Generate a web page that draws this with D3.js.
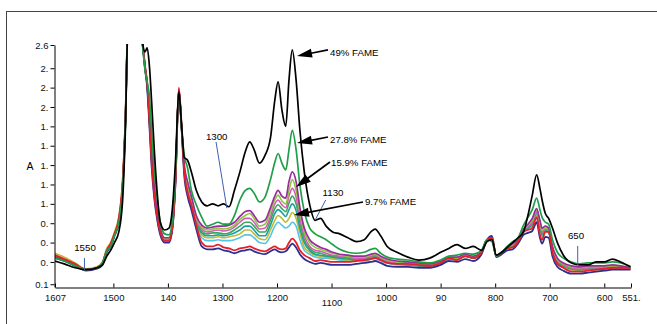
<!DOCTYPE html>
<html><head><meta charset="utf-8">
<script src="https://cdn.jsdelivr.net/npm/d3@7"></script>
<style>body{margin:0;background:#fff}svg{display:block;font-family:"Liberation Sans",Arial,sans-serif}</style>
</head><body><svg id="c" width="657" height="324"></svg>
<script>
// wavenumber grid (cm-1)
const wavenumber = [1607,1590,1570,1550,1530,1520,1512,1505,1498,1490,1483,1478,1473,1460,1450,1446,1442,1438,1434,1430,1425,1420,1414,1406,1398,1392,1386,1380,1375,1370,1364,1357,1348,1338,1328,1318,1308,1298,1288,1278,1268,1258,1250,1242,1232,1222,1212,1204,1198,1191,1184,1178,1172,1165,1158,1150,1140,1130,1120,1110,1098,1085,1070,1055,1040,1028,1020,1010,998,980,960,940,920,900,885,870,855,840,825,815,806,798,788,778,768,758,748,740,732,724,718,714,708,702,695,686,675,660,645,630,615,600,585,570,552];

// absorbance series
const fame49 = [0.41,0.38,0.34,0.32,0.34,0.37,0.46,0.52,0.60,0.71, 1.04,1.76,2.90,3.10,3.00,2.65,2.57,2.61,2.43,2.07, 1.56,1.14,0.81,0.73,0.75,0.94,1.45,2.16,1.82,1.48, 1.45,1.33,1.14,1.02,0.98,1.00,0.98,1.00,0.97,1.14, 1.33,1.54,1.64,1.56,1.42,1.50,1.68,2.07,2.26,1.97, 1.80,2.28,2.59,2.28,1.76,1.33,0.99,0.83,0.85,0.77, 0.71,0.69,0.65,0.61,0.63,0.71,0.74,0.67,0.56,0.50, 0.45,0.42,0.44,0.50,0.54,0.58,0.54,0.56,0.52,0.61, 0.63,0.47,0.50,0.55,0.60,0.65,0.71,0.88,1.09,1.30, 1.16,1.04,0.90,0.85,0.75,0.60,0.47,0.39,0.37,0.37, 0.40,0.40,0.43,0.40,0.35];
const fame278 = [0.44,0.41,0.36,0.32,0.34,0.39,0.51,0.56,0.67,0.81, 1.16,1.82,2.90,3.10,2.80,2.61,2.38,2.26,2.12,1.76, 1.35,1.07,0.81,0.69,0.68,0.83,1.35,2.16,1.78,1.50, 1.37,1.14,0.99,0.86,0.77,0.79,0.81,0.79,0.79,0.88, 1.04,1.14,1.16,1.11,1.02,1.07,1.25,1.43,1.52,1.42, 1.35,1.56,1.76,1.56,1.19,0.92,0.75,0.69,0.66,0.63, 0.58,0.53,0.50,0.49,0.50,0.53,0.54,0.49,0.45,0.43, 0.42,0.40,0.39,0.42,0.46,0.47,0.49,0.48,0.52,0.63, 0.61,0.46,0.50,0.56,0.61,0.65,0.78,0.86,0.94,1.06, 0.94,0.86,0.81,0.79,0.63,0.50,0.44,0.40,0.38,0.39, 0.39,0.39,0.40,0.39,0.35];
const fame159 = [0.46,0.42,0.37,0.32,0.34,0.39,0.52,0.58,0.68,0.83, 1.19,1.85,2.90,3.10,2.80,2.63,2.41,2.24,1.92,1.56, 1.19,0.94,0.75,0.65,0.65,0.78,1.29,2.18,1.80,1.40, 1.23,1.08,0.88,0.78,0.75,0.76,0.77,0.77,0.78,0.81, 0.87,0.92,0.93,0.88,0.81,0.83,0.96,1.08,1.14,1.08, 1.06,1.23,1.33,1.23,0.96,0.75,0.63,0.58,0.55,0.53, 0.50,0.48,0.47,0.46,0.46,0.48,0.49,0.46,0.43,0.41, 0.40,0.39,0.38,0.41,0.45,0.45,0.48,0.46,0.51,0.63, 0.63,0.46,0.50,0.55,0.59,0.63,0.74,0.79,0.85,0.95, 0.83,0.75,0.77,0.75,0.56,0.44,0.39,0.36,0.35,0.36, 0.36,0.36,0.37,0.36,0.34];
const sLime = [0.47,0.43,0.37,0.32,0.34,0.39,0.53,0.59,0.69,0.84, 1.20,1.85,2.90,3.10,2.80,2.63,2.42,2.24,1.91,1.54, 1.17,0.93,0.74,0.64,0.64,0.77,1.28,2.18,1.80,1.38, 1.19,1.05,0.86,0.76,0.73,0.74,0.75,0.74,0.75,0.78, 0.84,0.88,0.90,0.85,0.77,0.79,0.92,1.04,1.09,1.03, 1.00,1.14,1.25,1.14,0.91,0.71,0.60,0.55,0.53,0.51, 0.49,0.47,0.46,0.45,0.45,0.47,0.48,0.45,0.42,0.40, 0.39,0.38,0.37,0.40,0.44,0.44,0.47,0.45,0.50,0.63, 0.64,0.46,0.50,0.55,0.58,0.63,0.73,0.78,0.83,0.94, 0.81,0.73,0.75,0.74,0.55,0.43,0.38,0.35,0.34,0.35, 0.35,0.35,0.36,0.35,0.34];
const sPink = [0.46,0.42,0.37,0.32,0.34,0.39,0.52,0.58,0.68,0.83, 1.20,1.85,2.90,3.10,2.80,2.63,2.42,2.24,1.90,1.51, 1.16,0.92,0.73,0.63,0.63,0.76,1.27,2.18,1.80,1.37, 1.17,1.03,0.84,0.74,0.71,0.72,0.73,0.72,0.73,0.76, 0.81,0.85,0.85,0.81,0.74,0.75,0.87,1.00,1.04,0.99, 0.96,1.08,1.16,1.07,0.85,0.67,0.56,0.52,0.51,0.49, 0.47,0.46,0.45,0.44,0.44,0.46,0.47,0.44,0.41,0.39, 0.38,0.37,0.36,0.40,0.44,0.43,0.47,0.45,0.50,0.63, 0.64,0.46,0.50,0.55,0.58,0.63,0.73,0.77,0.81,0.92, 0.79,0.71,0.74,0.73,0.54,0.42,0.37,0.34,0.33,0.34, 0.34,0.34,0.35,0.34,0.33];
const sGreen = [0.45,0.42,0.36,0.32,0.34,0.38,0.52,0.58,0.68,0.82, 1.19,1.84,2.90,3.10,2.80,2.63,2.41,2.23,1.89,1.49, 1.14,0.91,0.72,0.63,0.63,0.76,1.27,2.18,1.79,1.36, 1.16,1.02,0.82,0.72,0.69,0.70,0.70,0.69,0.70,0.73, 0.77,0.81,0.81,0.77,0.71,0.71,0.83,0.95,0.99,0.95, 0.92,1.01,1.08,1.00,0.81,0.63,0.54,0.50,0.49,0.47, 0.46,0.45,0.44,0.43,0.43,0.45,0.46,0.43,0.40,0.39, 0.38,0.37,0.36,0.40,0.44,0.43,0.46,0.44,0.50,0.63, 0.64,0.46,0.50,0.54,0.56,0.62,0.72,0.76,0.80,0.91, 0.78,0.69,0.73,0.72,0.53,0.41,0.36,0.33,0.32,0.33, 0.33,0.33,0.34,0.34,0.33];
const sTeal = [0.46,0.42,0.37,0.32,0.34,0.38,0.51,0.56,0.67,0.82, 1.19,1.84,2.90,3.10,2.80,2.63,2.41,2.23,1.89,1.48, 1.13,0.90,0.71,0.62,0.62,0.75,1.26,2.18,1.79,1.35, 1.15,1.01,0.81,0.70,0.67,0.67,0.68,0.67,0.68,0.70, 0.73,0.77,0.77,0.73,0.67,0.67,0.78,0.90,0.94,0.91, 0.87,0.94,1.00,0.93,0.75,0.60,0.52,0.48,0.47,0.46, 0.45,0.44,0.43,0.42,0.42,0.44,0.45,0.42,0.40,0.38, 0.37,0.36,0.36,0.39,0.43,0.43,0.46,0.44,0.50,0.63, 0.64,0.46,0.50,0.54,0.56,0.62,0.72,0.75,0.79,0.90, 0.77,0.68,0.72,0.71,0.52,0.40,0.36,0.33,0.32,0.33, 0.33,0.33,0.34,0.34,0.33];
const fame97 = [0.49,0.45,0.39,0.33,0.35,0.40,0.54,0.60,0.71,0.87, 1.25,1.89,2.90,3.10,2.80,2.62,2.40,2.22,1.87,1.47, 1.12,0.88,0.70,0.62,0.62,0.75,1.26,2.18,1.79,1.34, 1.14,1.00,0.80,0.68,0.65,0.65,0.66,0.65,0.66,0.67, 0.69,0.73,0.73,0.69,0.64,0.63,0.73,0.83,0.88,0.85, 0.81,0.85,0.91,0.85,0.70,0.55,0.50,0.47,0.46,0.45, 0.44,0.43,0.42,0.42,0.42,0.44,0.45,0.42,0.39,0.38, 0.37,0.36,0.35,0.39,0.43,0.42,0.46,0.44,0.50,0.63, 0.64,0.46,0.50,0.54,0.56,0.62,0.72,0.75,0.78,0.88, 0.76,0.67,0.72,0.71,0.51,0.39,0.35,0.32,0.31,0.32, 0.32,0.32,0.33,0.33,0.33];
const sCyan = [0.46,0.42,0.36,0.32,0.34,0.38,0.51,0.56,0.67,0.82, 1.19,1.83,2.90,3.10,2.80,2.62,2.40,2.22,1.86,1.46, 1.11,0.87,0.69,0.61,0.61,0.74,1.25,2.18,1.79,1.34, 1.13,0.99,0.79,0.65,0.62,0.62,0.63,0.62,0.62,0.63, 0.65,0.68,0.68,0.65,0.60,0.59,0.67,0.77,0.81,0.78, 0.75,0.77,0.81,0.77,0.63,0.52,0.48,0.45,0.44,0.44, 0.43,0.42,0.41,0.41,0.41,0.43,0.44,0.41,0.39,0.37, 0.37,0.36,0.35,0.39,0.43,0.42,0.46,0.44,0.50,0.63, 0.64,0.46,0.50,0.54,0.56,0.62,0.71,0.74,0.77,0.87, 0.75,0.66,0.72,0.71,0.51,0.39,0.35,0.32,0.31,0.32, 0.32,0.32,0.33,0.33,0.33];
const sRed = [0.47,0.43,0.38,0.32,0.34,0.39,0.52,0.59,0.69,0.85, 1.23,1.87,2.90,3.10,2.80,2.64,2.43,2.25,1.87,1.45, 1.09,0.88,0.71,0.62,0.62,0.75,1.25,2.20,1.82,1.33, 1.12,0.99,0.78,0.60,0.56,0.56,0.58,0.55,0.54,0.52, 0.54,0.55,0.56,0.54,0.52,0.51,0.54,0.56,0.54,0.53, 0.54,0.60,0.64,0.60,0.52,0.47,0.44,0.41,0.42,0.41, 0.40,0.40,0.40,0.41,0.42,0.43,0.44,0.42,0.39,0.38, 0.38,0.37,0.36,0.39,0.44,0.42,0.46,0.44,0.50,0.63, 0.65,0.46,0.50,0.54,0.55,0.61,0.71,0.73,0.75,0.86, 0.68,0.63,0.71,0.71,0.50,0.38,0.34,0.30,0.30,0.31, 0.32,0.33,0.34,0.34,0.34];
const sNavy = [0.44,0.41,0.36,0.31,0.33,0.37,0.50,0.56,0.67,0.81, 1.18,1.82,2.90,3.10,2.80,2.62,2.40,2.20,1.82,1.40, 1.06,0.85,0.68,0.60,0.60,0.73,1.23,2.18,1.78,1.29, 1.08,0.94,0.74,0.56,0.53,0.53,0.54,0.52,0.51,0.49, 0.51,0.52,0.53,0.51,0.49,0.48,0.51,0.53,0.51,0.50, 0.51,0.55,0.59,0.55,0.48,0.43,0.40,0.38,0.39,0.38, 0.37,0.37,0.37,0.38,0.39,0.40,0.41,0.39,0.36,0.35, 0.35,0.34,0.34,0.37,0.41,0.40,0.43,0.41,0.48,0.63, 0.67,0.45,0.48,0.52,0.53,0.59,0.68,0.70,0.72,0.81, 0.65,0.59,0.66,0.65,0.46,0.35,0.31,0.28,0.28,0.29, 0.30,0.31,0.32,0.32,0.32];

// axis ticks
const xTickValues = [1607,1500,1400,1300,1200,1100,1000,900,800,700,600,551];
const xTickLabels = ["1607","1500","140","1300","1200","1100","1000","90","800","700","600","551."];
const yTickValues = [0.17,0.4,0.6,0.8,1.0,1.2,1.4,1.6,1.8,2.0,2.2,2.4,2.64];
const yTickLabels = ["0.1","0.","0.","0.","1.","1.","1.","1.","1.","2.","2.","2.","2.6"];

// annotations
const markerLabels = ["1550","1300","1130","650"];
const markerStart = [[1553,0.44],[1292,0.955],[1130,0.833],[648.7,0.369]];
const markerEnd = [[1553,0.317],[1311.8,1.64],[1110.7,1.04],[648.7,0.565]];
const markerText = [[1552,0.544],[1310.6,1.683],[1097.3,1.109],[651.8,0.661]];
const arrowLabels = ["49% FAME","27.8% FAME","15.9% FAME","9.7% FAME"];
const arrowTip = [[1163.3,2.527],[1163.3,1.628],[1165.2,1.174],[1168.8,0.885]];
const arrowTail = [[1106.5,2.589],[1106.5,1.690],[1102.8,1.432],[1042.3,1.019]];
const arrowText = [[1102.8,2.558],[1102.8,1.659],[1101,1.422],[1038.7,1.016]];

const seriesList = [
  {v:sCyan, c:"#55c5e6", w:1.6},
  {v:fame97, c:"#c2b934", w:1.6},
  {v:sTeal, c:"#1aa0a0", w:1.6},
  {v:sGreen, c:"#3aa85a", w:1.6},
  {v:sPink, c:"#d35db5", w:1.6},
  {v:sLime, c:"#8cc63f", w:1.6},
  {v:fame159, c:"#9a2c9e", w:1.7},
  {v:sNavy, c:"#2c2f8e", w:1.8},
  {v:sRed, c:"#e6202a", w:1.8},
  {v:fame278, c:"#1f9e48", w:1.7},
  {v:fame49, c:"#000000", w:1.7}
];

const svg = d3.select("#c");
svg.append("rect").attr("x",6.5).attr("y",11.5).attr("width",700).attr("height",400)
  .attr("fill","none").attr("stroke","#444").attr("stroke-width",1);

const x = d3.scaleLinear().domain([1607,551]).range([55,631]);
const y = d3.scaleLinear().domain([0.1415,2.64]).range([287,45]);

svg.append("clipPath").attr("id","clip").append("rect")
  .attr("x",55).attr("y",44).attr("width",578).attr("height",243);

const line = d3.line().x((d,i)=>x(wavenumber[i])).y(d=>y(d)).curve(d3.curveMonotoneX);
const gl = svg.append("g").attr("clip-path","url(#clip)");
seriesList.forEach(s=>{
  gl.append("path").attr("d",line(s.v)).attr("fill","none")
    .attr("stroke",s.c).attr("stroke-width",s.w).attr("stroke-linejoin","round");
});

// axes
const ya = svg.append("g").attr("transform","translate(54.5,0)")
  .call(d3.axisLeft(y).tickValues(yTickValues).tickFormat((d,i)=>yTickLabels[i]).tickSize(4).tickSizeOuter(0).tickPadding(2));
ya.selectAll("text").attr("font-size",9.5).attr("fill","#111");
ya.attr("font-family",null);
const xa = svg.append("g").attr("transform","translate(0,287.5)")
  .call(d3.axisBottom(x).tickValues(xTickValues).tickFormat((d,i)=>xTickLabels[i]).tickSize(-4).tickSizeOuter(0).tickPadding(7));
xa.selectAll("text").attr("font-size",9.5).attr("fill","#111");
xa.selectAll(".tick").filter(d=>d===1100).select("text").attr("dy","1.2em");
xa.attr("font-family",null);
svg.selectAll(".domain").attr("stroke","#000");

svg.append("text").attr("x",30).attr("y",167).attr("text-anchor","middle")
  .attr("dominant-baseline","middle").attr("font-size",10.5).text("A");

// markers
markerLabels.forEach((t,i)=>{
  svg.append("line").attr("x1",x(markerStart[i][0])).attr("y1",y(markerStart[i][1]))
    .attr("x2",x(markerEnd[i][0])).attr("y2",y(markerEnd[i][1]))
    .attr("stroke","#3f5fb0").attr("stroke-width",1);
  svg.append("text").attr("x",x(markerText[i][0])).attr("y",y(markerText[i][1]))
    .attr("text-anchor","middle").attr("dominant-baseline","middle")
    .attr("font-size",9.7).text(t);
});

// arrows
arrowLabels.forEach((t,i)=>{
  const x2=x(arrowTip[i][0]), y2=y(arrowTip[i][1]);
  const x1=x(arrowTail[i][0]), y1=y(arrowTail[i][1]);
  const dx=x2-x1, dy=y2-y1, L=Math.hypot(dx,dy), ux=dx/L, uy=dy/L;
  const hl=15, hw=4.5;
  const bx=x2-ux*hl, by=y2-uy*hl;
  svg.append("line").attr("x1",x1).attr("y1",y1).attr("x2",bx+ux*2).attr("y2",by+uy*2)
    .attr("stroke","#000").attr("stroke-width",1.7);
  svg.append("path").attr("d",`M${x2},${y2}L${bx-uy*hw},${by+ux*hw}L${bx+uy*hw},${by-ux*hw}Z`)
    .attr("fill","#000");
  svg.append("text").attr("x",x(arrowText[i][0])).attr("y",y(arrowText[i][1]))
    .attr("dominant-baseline","middle").attr("font-size",9.7).text(t);
});
</script></body></html>
